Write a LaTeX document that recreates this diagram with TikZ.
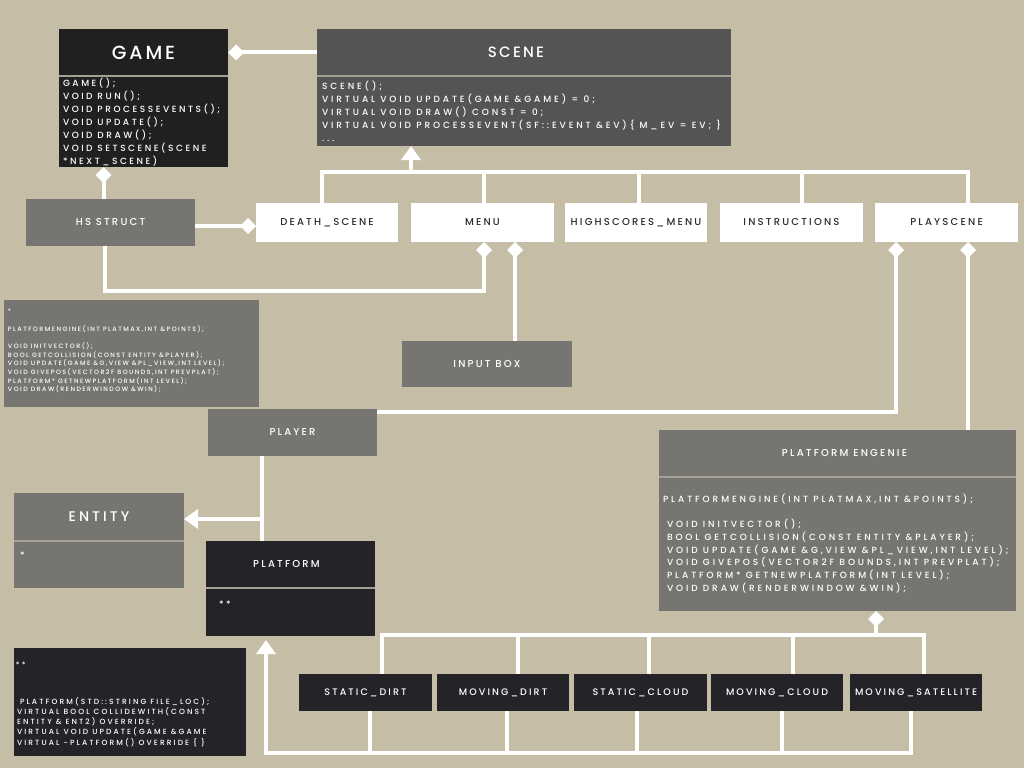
\documentclass[tikz,border=0pt]{standalone}
\usepackage{fontspec}
\setmainfont{Poppins}[UprightFont=* Medium, LetterSpace=15]
\usetikzlibrary{arrows.meta,calc}
\definecolor{bg}{RGB}{197,189,166}
\definecolor{gameblk}{RGB}{32,32,32}
\definecolor{scenegray}{RGB}{84,84,84}
\definecolor{midgray}{RGB}{119,117,114}
\definecolor{darkblk}{RGB}{35,35,40}
\definecolor{labeldark}{RGB}{45,45,45}
\definecolor{sepcol}{RGB}{165,160,148}
\newcommand\lsLabel{\addfontfeatures{LetterSpace=22}}
\newcommand\lsBody{\addfontfeatures{LetterSpace=28}}
\newcommand\lsWide{\addfontfeatures{LetterSpace=32}}
\newcommand\lsSmall{\addfontfeatures{LetterSpace=23}}
\tikzset{
  box/.style={rectangle, inner sep=0pt, outer sep=0pt, align=center},
  wbox/.style={box, fill=white, minimum height=39pt, font=\fontsize{10}{10}\selectfont\lsLabel, text=labeldark},
  gbox/.style={box, fill=midgray, minimum width=169pt, minimum height=47pt, font=\fontsize{10}{10}\selectfont\lsLabel, text=white},
  dbox/.style={box, fill=darkblk, minimum height=37pt, font=\fontsize{9.5}{9.5}\selectfont\lsLabel, text=white},
  txt/.style={inner sep=0pt, outer sep=0pt, align=left, text=white},
  sep/.style={draw=sepcol, line width=1.2pt},
  line/.style={draw=white, line width=4pt, line join=miter},
  comp/.style={line, {Diamond[length=16pt,width=16pt]}-},
  inh/.style={line, -{Triangle[length=14pt,width=19pt]}},
}
\begin{document}
\begin{tikzpicture}[x=1pt,y=-1pt]
\useasboundingbox (0,0) rectangle (1024,768);
\fill[bg] (0,0) rectangle (1024,768);

% GAME
\node[box, fill=gameblk, minimum width=169pt, minimum height=47pt, font=\fontsize{19}{19}\selectfont, text=white] (gamehead) at (143.5,52.5) {GAME};
\node[box, fill=gameblk, minimum width=169pt, minimum height=91pt, anchor=north] (gamebody) at (143.5,76) {};
\draw[sep] (gamehead.south west) -- (gamehead.south east);
\node[txt, anchor=north west, font=\fontsize{9}{13}\selectfont\lsBody] (gametext) at (63,78)
  {GAME();\\VOID RUN();\\VOID PROCESSEVENTS();\\VOID UPDATE();\\VOID DRAW();\\VOID SETSCENE(SCENE\\*NEXT\_SCENE)};

% SCENE
\node[box, fill=scenegray, minimum width=414pt, minimum height=47pt, font=\fontsize{15}{15}\selectfont, text=white] (scenehead) at (524,52.5) {\hspace*{-16pt}SCENE};
\node[box, fill=scenegray, minimum width=414pt, minimum height=70pt, anchor=north] (scenebody) at (524,76) {};
\draw[sep] (scenehead.south west) -- (scenehead.south east);
\node[txt, anchor=north west, font=\fontsize{9}{13}\selectfont\lsWide] (scenetext) at (322,81)
  {SCENE();\\VIRTUAL VOID UPDATE(GAME \&GAME) = 0;\\VIRTUAL VOID DRAW() CONST = 0;\\VIRTUAL VOID PROCESSEVENT(SF::EVENT \&EV)\{ M\_EV = EV; \}\\...};

% scene subclasses
\node[wbox, minimum width=142pt] (death) at (327,222.5) {DEATH\_SCENE};
\node[wbox, minimum width=143pt] (menu) at (482.5,222.5) {MENU};
\node[wbox, minimum width=142pt] (hsm) at (636,222.5) {HIGHSCORES\_MENU};
\node[wbox, minimum width=143pt] (instr) at (791.5,222.5) {INSTRUCTIONS};
\node[wbox, minimum width=143pt] (play) at (946.5,222.5) {PLAYSCENE};

% gray boxes
\node[gbox] (hsst) at (110.5,222.5) {HS STRUCT};
\node[gbox, minimum width=170pt, minimum height=46pt] (input) at (487,364) {INPUT BOX};
\node[gbox] (player) at (292.5,432.5) {PLAYER};

% left text box
\node[box, fill=midgray, minimum width=255pt, minimum height=107pt] (pebox) at (131.5,353.5) {};
\node[txt, anchor=north west, font=\fontsize{6.3}{8.7}\selectfont\lsSmall] (peboxtext) at (8,309)
  {*\\[8.7pt]PLATFORMENGINE(INT PLATMAX,INT \&POINTS);\\[8.7pt]VOID INITVECTOR();\\BOOL GETCOLLISION(CONST ENTITY \&PLAYER);\\VOID UPDATE(GAME \&G,VIEW \&PL\_VIEW,INT LEVEL);\\VOID GIVEPOS(VECTOR2F BOUNDS,INT PREVPLAT);\\PLATFORM* GETNEWPLATFORM(INT LEVEL);\\VOID DRAW(RENDERWINDOW \&WIN);};

% ENTITY
\node[box, fill=midgray, minimum width=170pt, minimum height=48pt, font=\fontsize{14}{14}\selectfont\lsLabel, text=white] (entityhead) at (99,517) {ENTITY};
\node[box, fill=midgray, minimum width=170pt, minimum height=47pt, anchor=north] (entitybody) at (99,541) {};
\draw[sep] (entityhead.south west) -- (entityhead.south east);
\node[txt, anchor=west, font=\fontsize{9}{9}\selectfont] (entitystar) at (20,555) {*};

% PLATFORM
\node[box, fill=darkblk, minimum width=169pt, minimum height=47pt, font=\fontsize{10}{10}\selectfont\lsLabel, text=white] (plathead) at (290.5,564.5) {\hspace*{-8pt}PLATFORM};
\node[box, fill=darkblk, minimum width=169pt, minimum height=48pt, anchor=north] (platbody) at (290.5,588) {};
\draw[sep] (plathead.south west) -- (plathead.south east);
\node[txt, anchor=west, font=\fontsize{9}{9}\selectfont\lsBody] (platstar) at (219,604) {**};

% PLATFORM ENGENIE
\node[box, fill=midgray, minimum width=357pt, minimum height=47pt, font=\fontsize{10}{10}\selectfont\lsLabel, text=white] (pehead) at (837.5,453.5) {\hspace*{14pt}PLATFORM ENGENIE};
\node[box, fill=midgray, minimum width=357pt, minimum height=134pt, anchor=north] (pebody) at (837.5,477) {};
\draw[sep] (pehead.south west) -- (pehead.south east);
\node[txt, anchor=north west, font=\fontsize{9}{12.7}\selectfont\lsWide] (petext) at (663,494)
  {PLATFORMENGINE(INT PLATMAX,INT \&POINTS);\\[12.7pt]
   \hspace{4pt}VOID INITVECTOR();\\\hspace{4pt}BOOL GETCOLLISION(CONST ENTITY \&PLAYER);\\\hspace{4pt}VOID UPDATE(GAME \&G,VIEW \&PL\_VIEW,INT LEVEL);\\\hspace{4pt}VOID GIVEPOS(VECTOR2F BOUNDS,INT PREVPLAT);\\\hspace{4pt}PLATFORM* GETNEWPLATFORM(INT LEVEL);\\\hspace{4pt}VOID DRAW(RENDERWINDOW \&WIN);};

% bottom-left box
\node[box, fill=darkblk, minimum width=232pt, minimum height=108pt] (platbox) at (130,702) {};
\node[txt, anchor=west, font=\fontsize{7.5}{7.5}\selectfont\lsBody] (platboxstar) at (16,665) {**};
\node[txt, anchor=north west, font=\fontsize{7.5}{10.3}\selectfont\lsBody] (platboxtext) at (17,697)
  {\hspace{3pt}PLATFORM(STD::STRING FILE\_LOC);\\VIRTUAL BOOL COLLIDEWITH(CONST\\ENTITY \& ENT2) OVERRIDE;\\VIRTUAL VOID UPDATE(GAME \&GAME\\VIRTUAL -PLATFORM() OVERRIDE \{ \}};

% platform kinds
\node[dbox, minimum width=133pt] (b1) at (365.5,692.5) {STATIC\_DIRT};
\node[dbox, minimum width=132pt] (b2) at (503,692.5) {MOVING\_DIRT};
\node[dbox, minimum width=133pt] (b3) at (640.5,692.5) {STATIC\_CLOUD};
\node[dbox, minimum width=132pt] (b4) at (777,692.5) {MOVING\_CLOUD};
\node[dbox, minimum width=132pt] (b5) at (916,692.5) {MOVING\_SATELLITE};

% bus coordinates
\coordinate (busA) at (0,172);
\coordinate (busB) at (0,635);
\coordinate (busC) at (0,753);
\coordinate (sceneArr) at (411,172);

% connectors
\draw[comp] (gamehead.east) -- (scenehead.west);
\draw[comp] ([xshift=-40pt]gamebody.south) -- ([xshift=-7pt]hsst.north);
\draw[comp] ([yshift=-3.5pt]death.west) -- ([yshift=-3.5pt]hsst.east);
\draw[comp] ([xshift=1.5pt]menu.south) -- ([xshift=1.5pt,yshift=-49pt]menu.south) -| ([xshift=-5.5pt]hsst.south);
\draw[comp] ([xshift=32.5pt]menu.south) -- ([xshift=32.5pt]menu.south |- input.north);

\draw[line] ([xshift=-5pt]death.north) |- ([xshift=21.5pt]play.north |- busA) -- ([xshift=21.5pt]play.north);
\draw[line] ([xshift=1.5pt]menu.north) -- ([xshift=1.5pt]menu.north |- busA);
\draw[line] ([xshift=3pt]hsm.north) -- ([xshift=3pt]hsm.north |- busA);
\draw[line] ([xshift=10.5pt]instr.north) -- ([xshift=10.5pt]instr.north |- busA);
\draw[inh] (sceneArr) -- (sceneArr |- scenebody.south);

\draw[comp] ([xshift=-50.5pt]play.south) |- ([yshift=20.5pt]player.east);
\draw[comp] ([xshift=21.5pt]play.south) -- ([xshift=21.5pt]play.south |- pehead.north);

\draw[line] ([xshift=-30.5pt]player.south) -- ([xshift=-30.5pt]player.south |- plathead.north);
\draw[inh] ([xshift=-30.5pt,yshift=-2pt]player.south |- entityhead.east) -- ([yshift=-2pt]entityhead.east);

\draw[comp] ([xshift=38.5pt]pebody.south) -- ([xshift=38.5pt]pebody.south |- busB);
\draw[line] ([xshift=16.5pt]b1.north) |- ([xshift=8pt]b5.north |- busB) -- ([xshift=8pt]b5.north);
\draw[line] ([xshift=15pt]b2.north) -- ([xshift=15pt]b2.north |- busB);
\draw[line] ([xshift=8.5pt]b3.north) -- ([xshift=8.5pt]b3.north |- busB);
\draw[line] ([xshift=16pt]b4.north) -- ([xshift=16pt]b4.north |- busB);

\draw[inh] ([xshift=-5pt]b5.south) |- ([xshift=-24.5pt]platbody.south |- busC) -- ([xshift=-24.5pt,yshift=-4pt]platbody.south);
\draw[line] ([xshift=4.5pt]b1.south) -- ([xshift=4.5pt]b1.south |- busC);
\draw[line] ([xshift=4pt]b2.south) -- ([xshift=4pt]b2.south |- busC);
\draw[line] ([xshift=-3.5pt]b3.south) -- ([xshift=-3.5pt]b3.south |- busC);
\draw[line] ([xshift=5pt]b4.south) -- ([xshift=5pt]b4.south |- busC);
\end{tikzpicture}
\end{document}
